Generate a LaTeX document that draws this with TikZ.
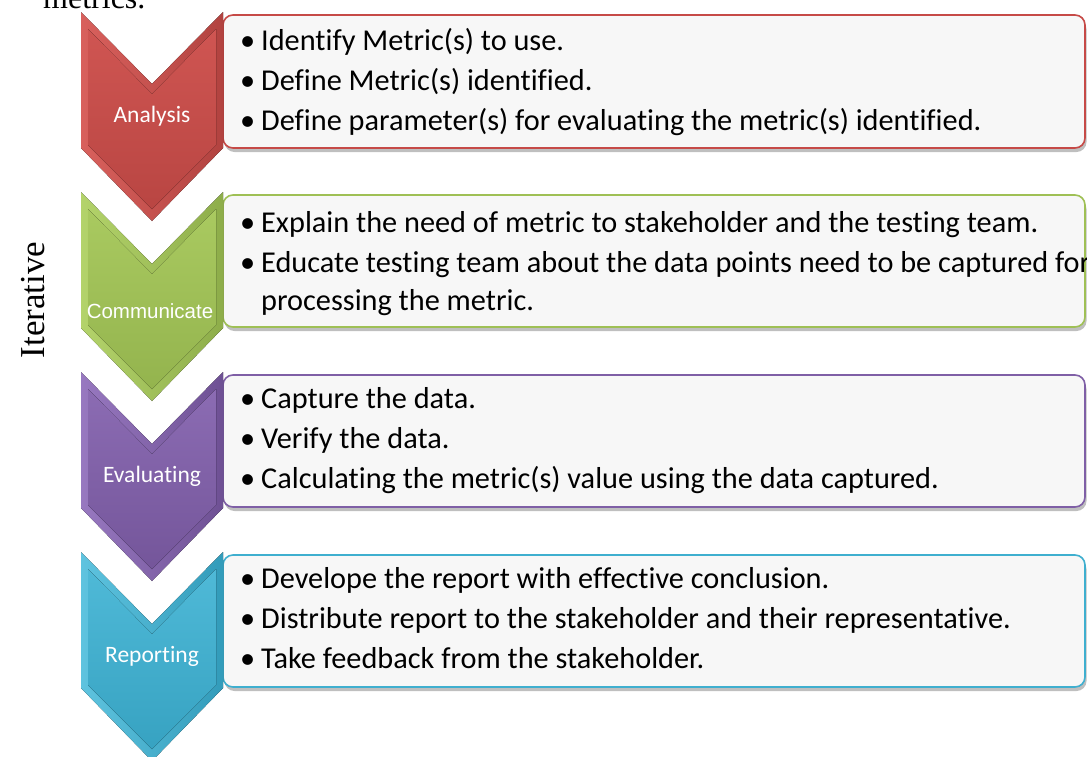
\documentclass[tikz,border=0pt]{standalone}
\usepackage{fontspec}
\setmainfont{Carlito}[Ligatures=NoCommon]
\newfontfamily\serifface{Liberation Serif}
\newfontfamily\arialface{Liberation Sans}
\usetikzlibrary{shadows}

\definecolor{redA}{HTML}{C64A47}
\definecolor{redL}{HTML}{E06A66}
\definecolor{redD}{HTML}{A9403D}
\definecolor{grnA}{HTML}{9FC055}
\definecolor{grnL}{HTML}{BCDB74}
\definecolor{grnD}{HTML}{86A545}
\definecolor{purA}{HTML}{7F5FA6}
\definecolor{purL}{HTML}{A283CB}
\definecolor{purD}{HTML}{674A8C}
\definecolor{cyaA}{HTML}{3FAFCF}
\definecolor{cyaL}{HTML}{6CCCE6}
\definecolor{cyaD}{HTML}{2D93B1}
\definecolor{boxfill}{HTML}{F7F7F7}

\tikzset{
  panel/.style={rounded corners=10pt, fill=boxfill, line width=1.6pt,
    drop shadow={shadow xshift=1.5pt, shadow yshift=-4pt, opacity=0.25, fill=black}},
  item/.style={inner sep=0pt, anchor=base west, text=black,
    font=\fontsize{30.3}{36}\selectfont},
  tag/.style={inner sep=0pt, text=white, font=\fontsize{23.5}{28}\selectfont},
}

% one chevron: #1 top y, #2 light, #3 main, #4 dark
\newcommand{\chevronshape}[4]{%
  \begin{scope}[shift={(0,#1)}]
    \fill[left color=#2!70!#3, right color=#4!70!#3]
      (81,0) -- (152,72) -- (223,0) -- (223,136) -- (152,209) -- (81,136) -- cycle;
    \fill[top color=#2!35!#3, bottom color=#4!45!#3]
      (88,17) -- (152,82) -- (216,17) -- (216,133) -- (152,197) -- (88,133) -- cycle;
  \end{scope}}

\begin{document}
\begin{tikzpicture}[x=1pt, y=-1pt]
  \useasboundingbox (0,0) rectangle (1087,756);

  % caption fragment and side label
  \node[inner sep=0pt, anchor=base west, font=\serifface\fontsize{32}{36}\selectfont]
    (cap) at (43,8) {metrics.};
  \node[inner sep=0pt, rotate=90, font=\serifface\fontsize{35}{40}\selectfont]
    (iter) at (33,300) {Iterative};

  % text panels
  \draw[panel, draw=redA] (223,15) rectangle (1085,148);
  \draw[panel, draw=grnA] (223,195) rectangle (1085,327);
  \draw[panel, draw=purA] (223,375) rectangle (1085,507);
  \draw[panel, draw=cyaA] (223,555) rectangle (1085,687);

  % chevrons
  \chevronshape{12}{redL}{redA}{redD}
  \chevronshape{192}{grnL}{grnA}{grnD}
  \chevronshape{372}{purL}{purA}{purD}
  \chevronshape{552}{cyaL}{cyaA}{cyaD}

  \node[tag] (analysis) at (152,116) {Analysis};
  \node[tag, font=\arialface\fontsize{20.5}{24}\selectfont] (communicate) at (150,311) {Communicate};
  \node[tag] (evaluating) at (152,476) {Evaluating};
  \node[tag] (reporting) at (152,656) {Reporting};

  % bullet lines
  \newcommand{\bl}{\makebox[18pt][l]{\hspace{-3pt}•}}
  \node[item] (a1) at (243,50)  {\bl Identify Metric(s) to use.};
  \node[item] (a2) at (243,90)  {\bl Define Metric(s) identified.};
  \node[item] (a3) at (243,130) {\bl Define parameter(s) for evaluating the metric(s) identified.};

  \node[item] (c1) at (243,232) {\bl Explain the need of metric to stakeholder and the testing team.};
  \node[item] (c2) at (243,272) {\bl Educate testing team about the data points need to be captured for};
  \node[item] (c3) at (261,310) {processing the metric.};

  \node[item] (e1) at (243,408) {\bl Capture the data.};
  \node[item] (e2) at (243,448) {\bl Verify the data.};
  \node[item] (e3) at (243,488) {\bl Calculating the metric(s) value using the data captured.};

  \node[item] (r1) at (243,588) {\bl Develope the report with effective conclusion.};
  \node[item] (r2) at (243,628) {\bl Distribute report to the stakeholder and their representative.};
  \node[item] (r3) at (243,668) {\bl Take feedback from the stakeholder.};
\end{tikzpicture}
\end{document}
